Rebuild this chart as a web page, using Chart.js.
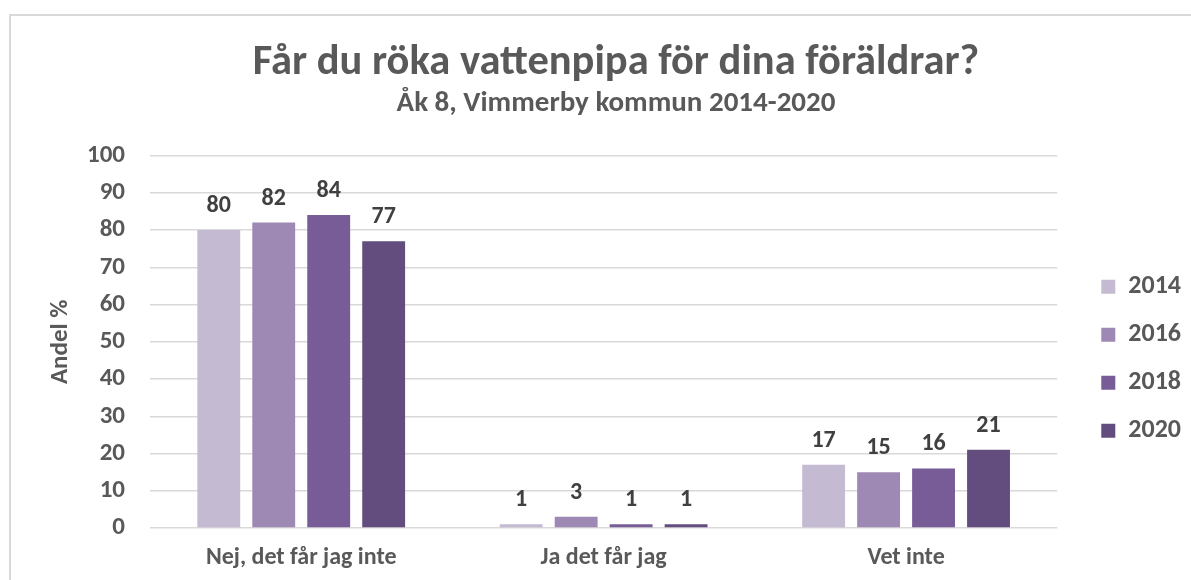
<!DOCTYPE html>
<html lang="sv">
<head>
<meta charset="utf-8">
<title>Får du röka vattenpipa för dina föräldrar?</title>
<script src="https://cdn.jsdelivr.net/npm/chart.js@4.4.1/dist/chart.umd.min.js"></script>
<style>
  html, body { margin: 0; padding: 0; background: #fff; }
  canvas { display: block; }
</style>
</head>
<body>
<canvas id="chart" width="1191" height="580"></canvas>
<script>
// data
const categories = ['Nej, det får jag inte', 'Ja det får jag', 'Vet inte'];
const years = ['2014', '2016', '2018', '2020'];
const values2014 = [80, 1, 17];
const values2016 = [82, 3, 15];
const values2018 = [84, 1, 16];
const values2020 = [77, 1, 21];
const yTicks = [0, 10, 20, 30, 40, 50, 60, 70, 80, 90, 100];

const colors = ['#C4BAD2', '#9D89B3', '#775C97', '#624D7E'];
const FONT = 'Carlito, Lato, "Open Sans", sans-serif';
const TEXT = '#595959';

// frame round the chart, like the exported picture
const framePlugin = {
  id: 'frame',
  beforeDraw(chart) {
    const ctx = chart.ctx;
    ctx.save();
    ctx.fillStyle = '#fff';
    ctx.fillRect(0, 0, chart.width, chart.height);
    ctx.strokeStyle = '#D9D9D9';
    ctx.lineWidth = 2;
    ctx.strokeRect(10, 15, chart.width + 20, chart.height + 20);
    ctx.restore();
  },
};

// value above every bar
const valueLabels = {
  id: 'valueLabels',
  afterDatasetsDraw(chart) {
    const ctx = chart.ctx;
    ctx.save();
    ctx.font = `bold 24px ${FONT}`;
    ctx.fillStyle = '#404040';
    ctx.textAlign = 'center';
    ctx.textBaseline = 'alphabetic';
    chart.data.datasets.forEach((ds, i) => {
      chart.getDatasetMeta(i).data.forEach((bar, j) => {
        ctx.fillText(ds.data[j], bar.x, bar.y - 18);
      });
    });
    ctx.restore();
  },
};

const series = [values2014, values2016, values2018, values2020];

new Chart(document.getElementById('chart'), {
  type: 'bar',
  data: {
    labels: categories,
    datasets: years.map((y, i) => ({
      label: y,
      data: series[i],
      backgroundColor: colors[i],
      categoryPercentage: 0.727,
      barPercentage: 0.78,
    })),
  },
  options: {
    responsive: false,
    animation: false,
    layout: { padding: { top: 20, left: 41, right: 0, bottom: 0 } },
    plugins: {
      title: {
        display: true,
        text: 'Får du röka vattenpipa för dina föräldrar?',
        color: TEXT,
        font: { family: FONT, size: 42.5, weight: 'bold', lineHeight: 1 },
        padding: { top: 22, bottom: 5 },
      },
      subtitle: {
        display: true,
        text: 'Åk 8, Vimmerby kommun 2014-2020',
        color: TEXT,
        font: { family: FONT, size: 29, weight: 'bold', lineHeight: 1 },
        padding: { top: 0, bottom: 37 },
      },
      legend: {
        position: 'right',
        fullSize: false,
        title: {
          display: true,
          text: ' ',
          font: { size: 10, lineHeight: 1.2 },
          padding: { top: 11, bottom: 11 },
        },
        labels: {
          color: TEXT,
          font: { family: FONT, size: 26, weight: 'bold' },
          boxWidth: 14,
          boxHeight: 14,
          padding: 22,
        },
      },
      tooltip: { enabled: false },
    },
    scales: {
      x: {
        grid: { display: false, drawTicks: false },
        border: { display: false },
        ticks: {
          color: TEXT,
          font: { family: FONT, size: 24, weight: 'bold' },
          padding: 16,
        },
        afterFit(scale) {
          scale.height = 52;
        },
      },
      y: {
        min: 0,
        max: 100,
        afterBuildTicks(scale) {
          scale.ticks = yTicks.map((v) => ({ value: v }));
        },
        grid: { color: '#D9D9D9', lineWidth: 1.5, drawTicks: false },
        border: { display: false },
        ticks: {
          color: TEXT,
          font: { family: FONT, size: 25, weight: 'bold' },
          padding: 25,
        },
        title: {
          display: true,
          text: 'Andel %',
          color: TEXT,
          font: { family: FONT, size: 25, weight: 'bold' },
          padding: { top: 4.5, bottom: 10 },
        },
        afterFit(scale) {
          scale.width = 109;
        },
      },
      gap: {
        position: 'right',
        display: true,
        grid: { display: false, drawTicks: false },
        border: { display: false },
        ticks: { display: false },
        afterFit(scale) {
          scale.width = 22;
        },
      },
    },
  },
  plugins: [framePlugin, valueLabels],
});
</script>
</body>
</html>
